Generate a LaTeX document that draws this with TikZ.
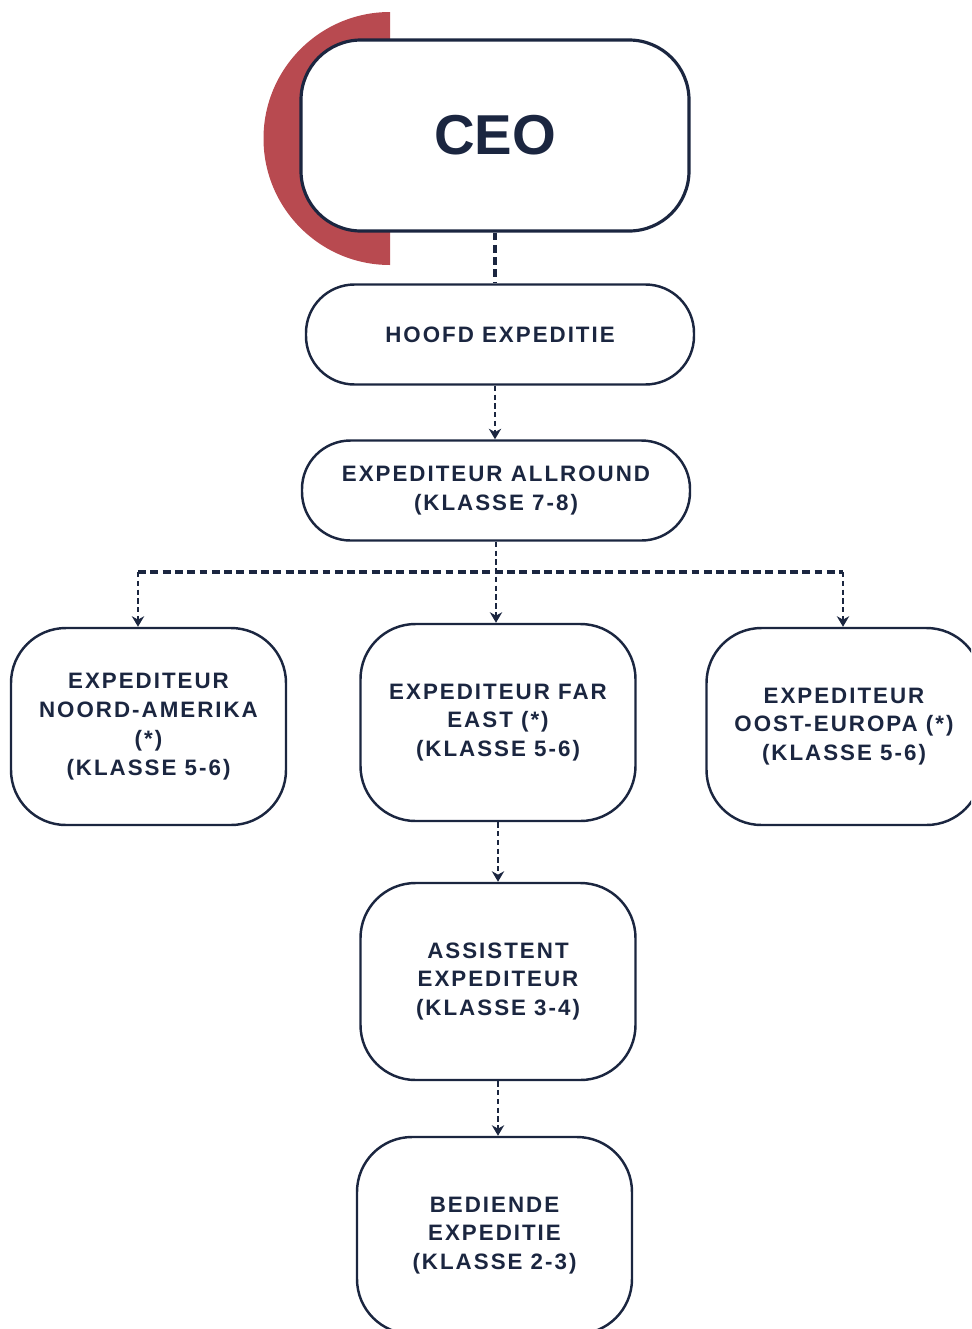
\documentclass[tikz,border=0pt]{standalone}
\usepackage{fontspec}
\setmainfont{Liberation Sans}[LetterSpace=9]
\usepackage{tikz}
\usetikzlibrary{positioning,arrows.meta}

\definecolor{navy}{HTML}{1B2640}
\definecolor{ceored}{HTML}{B84A50}

\begin{document}
\begin{tikzpicture}[on grid,
   box/.style={draw=navy, line width=1.4pt, fill=white, text=navy, align=center,
      inner sep=0pt, minimum width=5.5cm, minimum height=3.94cm, rounded corners=1.1cm,
      font=\bfseries\fontsize{12.7}{16.4}\selectfont},
   widebox/.style={box, minimum width=7.76cm, minimum height=2cm, rounded corners=0.97cm},
   ceobox/.style={box, line width=1.8pt, minimum width=7.76cm, minimum height=3.82cm,
      rounded corners=1.2cm, font=\addfontfeature{LetterSpace=0}\bfseries\fontsize{32}{38}\selectfont},
   drop/.style={navy, line width=1.1pt, dash pattern=on 3pt off 2pt,
      -{Stealth[length=6pt,width=7pt]}},
   bus/.style={navy, line width=2pt, dash pattern=on 4.5pt off 2.5pt}]
   \useasboundingbox (0,0) rectangle (19.42,-26.58);
   \clip (0,0) rectangle (19.42,-26.58);

   % red half disc behind the CEO box
   \fill[ceored] (7.80,-0.24) arc (90:270:2.53) -- cycle;

   \node[ceobox] (ceo) at (9.90,-2.71) {CEO};
   \node[widebox] (hoofd)    [below=3.98cm of ceo, xshift=0.1cm]     {HOOFD EXPEDITIE};
   \node[widebox] (allround) [below=3.12cm of hoofd, xshift=-0.08cm] {EXPEDITEUR ALLROUND\\(KLASSE 7-8)};

   \node[box] (fareast) [below=4.64cm of allround, xshift=0.04cm] {EXPEDITEUR FAR\\EAST (*)\\(KLASSE 5-6)};
   \node[box] (noord)   [left=6.99cm of fareast, yshift=-0.08cm]  {EXPEDITEUR\\NOORD-AMERIKA\\(*)\\(KLASSE 5-6)};
   \node[box] (oost)    [right=6.92cm of fareast, yshift=-0.08cm] {EXPEDITEUR\\OOST-EUROPA (*)\\(KLASSE 5-6)};

   \node[box] (assist)   [below=5.18cm of fareast]               {ASSISTENT\\EXPEDITEUR\\(KLASSE 3-4)};
   \node[box] (bediende) [below=5.08cm of assist, xshift=-0.07cm] {BEDIENDE\\EXPEDITIE\\(KLASSE 2-3)};

   \coordinate (busl) at (2.76,-11.44);
   \coordinate (busr) at (16.86,-11.44);

   \draw[bus, line width=1.8pt] (ceo.south) -- (ceo.south |- hoofd.north);
   \draw[bus] (busl) -- (busr);

    \path[drop]
    (ceo.south |- hoofd.south) edge (ceo.south |- allround.north)
    (allround.south)           edge (allround.south |- fareast.north)
    (busl)                     edge (busl |- noord.north)
    (busr)                     edge (busr |- oost.north)
    (fareast.south)            edge (assist.north)
    (assist.south)             edge (assist.south |- bediende.north);
\end{tikzpicture}
\end{document}
